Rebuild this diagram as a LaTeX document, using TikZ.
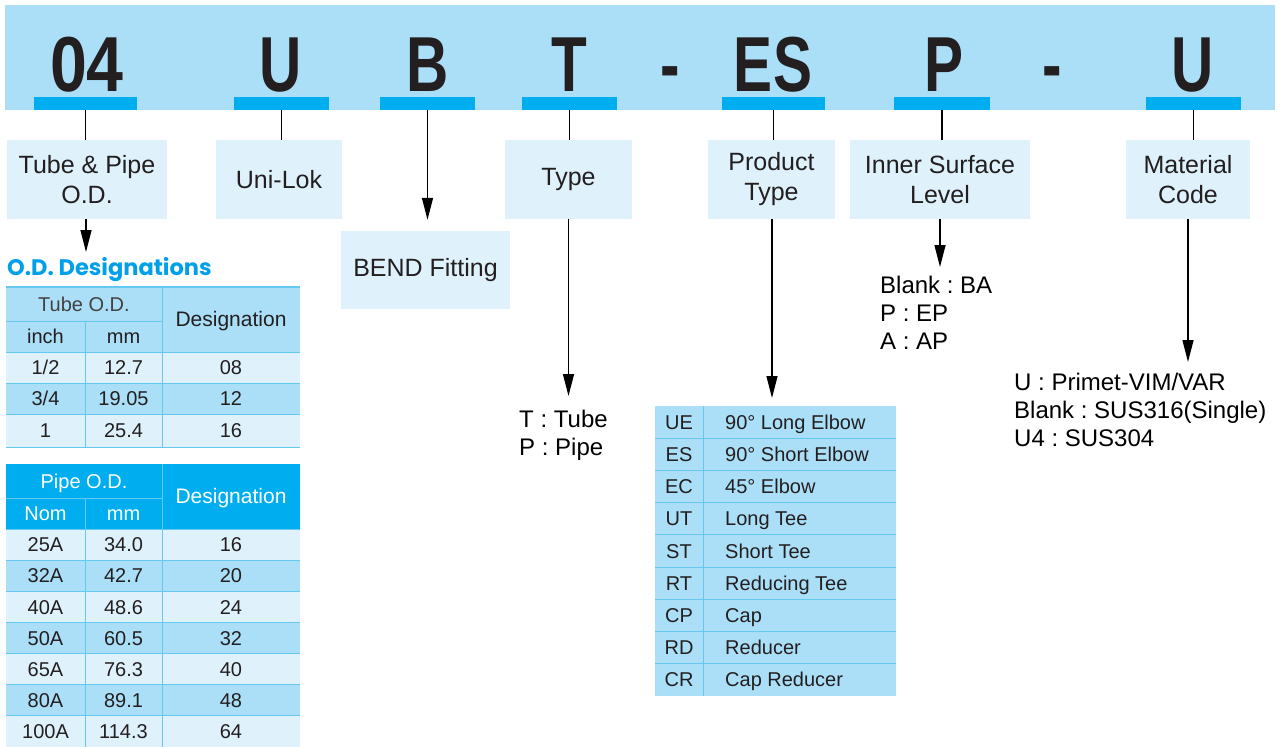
\documentclass[tikz,border=0pt]{standalone}
\usepackage{fontspec}
\usepackage{graphicx}
\setmainfont{Liberation Sans}
\newfontfamily\titlefont{Poppins}
\usetikzlibrary{arrows.meta}
\definecolor{midblue}{RGB}{170,223,247}
\definecolor{lightblue}{RGB}{223,242,251}
\definecolor{cyanbar}{RGB}{0,174,239}
\definecolor{tline}{RGB}{100,200,240}
\definecolor{ink}{RGB}{35,31,32}
\definecolor{titleblue}{RGB}{0,160,233}
\newcommand{\narrowtxt}[1]{\scalebox{0.75}[1]{#1}}
\frenchspacing
\begin{document}
\begin{tikzpicture}[x=1pt,y=-1pt,
  bigletter/.style={font=\fontsize{78}{78}\selectfont\bfseries, text=ink, inner sep=0pt, anchor=base},
  codebar/.style={fill=cyanbar, inner sep=0pt, minimum height=13pt},
  labelbox/.style={fill=lightblue, inner sep=0pt, align=center, font=\fontsize{25}{30}\selectfont, text=ink, minimum height=79pt},
  conn/.style={line width=1.4pt, draw=black},
  arr/.style={conn, -{Triangle[length=22pt,width=11pt]}},
  note/.style={inner sep=0pt, align=left, anchor=north west, font=\fontsize{24}{28}\selectfont, text=black},
  cell/.style={inner sep=0pt, font=\fontsize{20}{20}\selectfont, text=ink, text height=14.5pt, text depth=0pt},
  wcell/.style={cell, text=white},
  gridline/.style={draw=tline, line width=1pt}
]
\useasboundingbox (0,0) rectangle (1280,747);

% header band
\fill[midblue] (5,5) rectangle (1275,110);

% big code letters
\node[bigletter] (L1) at (87,91) {\scalebox{0.85}[1]{04}};
\node[bigletter] (L2) at (281,91) {\narrowtxt{U}};
\node[bigletter] (L3) at (428,91) {\narrowtxt{B}};
\node[bigletter] (L4) at (569,91) {\narrowtxt{T}};
\node[bigletter] (D1) at (670,91) {\narrowtxt{-}};
\node[bigletter] (L5) at (773,91) {\narrowtxt{ES}};
\node[bigletter] (L6) at (944,91) {\narrowtxt{P}};
\node[bigletter] (D2) at (1052,91) {\narrowtxt{-}};
\node[bigletter] (L7) at (1193,91) {\narrowtxt{U}};

% cyan bars
\node[codebar, minimum width=103pt] (bar1) at (85.5,103.5) {};
\node[codebar, minimum width=95pt] (bar2) at (281.5,103.5) {};
\node[codebar, minimum width=95pt] (bar3) at (427.5,103.5) {};
\node[codebar, minimum width=95pt] (bar4) at (569.5,103.5) {};
\node[codebar, minimum width=103pt] (bar5) at (773.5,103.5) {};
\node[codebar, minimum width=96pt] (bar6) at (942,103.5) {};
\node[codebar, minimum width=95pt] (bar7) at (1193.5,103.5) {};

% label boxes
\node[labelbox, minimum width=160pt] (tube) at (87,179.5) {Tube \& Pipe\\O.D.};
\node[labelbox, minimum width=126pt] (uni) at (279,179.5) {Uni-Lok};
\node[labelbox, minimum width=169pt, minimum height=78pt] (bend) at (425.5,270) {BEND Fitting};
\node[labelbox, minimum width=127pt] (type) at (568.5,179.5) {Type};
\node[labelbox, minimum width=127pt] (prod) at (771.5,179.5) {Product\\Type};
\node[labelbox, minimum width=180pt] (inner) at (940,179.5) {Inner Surface\\Level};
\node[labelbox, minimum width=124pt] (mat) at (1188,179.5) {Material\\Code};

% connectors from bars
\draw[conn] (bar1.south) -- (bar1.south |- tube.north);
\draw[conn] (bar2.south) -- (bar2.south |- uni.north);
\draw[arr, shorten >=11pt] (bar3.south) -- (bar3.south |- bend.north);
\draw[conn] (bar4.south) -- (bar4.south |- type.north);
\draw[conn] (bar5.south) -- (bar5.south |- prod.north);
\draw[conn] (bar6.south) -- (bar6.south |- inner.north);
\draw[conn] (bar7.south) -- (bar7.south |- mat.north);

% notes
\node[note] (tnote) at (519,410) {T : Tube\\P : Pipe};
\node[note] (innote) at (880,276) {Blank : BA\\P : EP\\A : AP};
\node[note] (matnote) at (1014,373) {U : Primet-VIM/VAR\\Blank : SUS316(Single)\\U4 : SUS304};

% title
\node[inner sep=0pt, anchor=west, text=titleblue, font=\titlefont\bfseries\fontsize{22.5}{22.5}\selectfont] (title) at (7,270) {O.D. Designations};
\coordinate (ttop) at (86,252);
\coordinate (ptop) at (772,406);

% arrows from boxes
\draw[arr] (tube.south -| ttop) -- (ttop);
\draw[arr, shorten >=14pt] (type.south) -- (type.south |- tnote.north);
\draw[arr, shorten >=8pt] (prod.south -| ptop) -- (ptop);
\draw[arr, shorten >=9pt] (inner.south) -- (inner.south |- innote.north);
\draw[arr, shorten >=11pt] (mat.south) -- (mat.south |- matnote.north);

% ---- Tube O.D. table ----
\fill[midblue] (6,287) rectangle (300,352);
\fill[lightblue] (6,352) rectangle (300,383);
\fill[midblue] (6,383) rectangle (300,414);
\fill[lightblue] (6,414) rectangle (300,447);
\draw[gridline, line width=2pt] (6,287) -- (300,287);
\draw[gridline] (6,321) -- (162,321);
\foreach \yy in {352,383,414,447} \draw[gridline] (6,\yy) -- (300,\yy);
\draw[gridline] (85,321) -- (85,447);
\draw[gridline] (162,287) -- (162,447);
\node[cell, text=ink!85] (th1) at (84,304) {Tube O.D.};
\node[cell] (th2) at (45.5,336.5) {inch};
\node[cell] (th3) at (123.5,336.5) {mm};
\node[cell, font=\fontsize{21}{21}\selectfont] (th4) at (231,319.5) {Designation};
\node[cell] (ta1) at (45.5,367.5) {1/2};
\node[cell] (tb1) at (123.5,367.5) {12.7};
\node[cell] (tc1) at (231,367.5) {08};
\node[cell] (ta2) at (45.5,398.5) {3/4};
\node[cell] (tb2) at (123.5,398.5) {19.05};
\node[cell] (tc2) at (231,398.5) {12};
\node[cell] (ta3) at (45.5,430.5) {1};
\node[cell] (tb3) at (123.5,430.5) {25.4};
\node[cell] (tc3) at (231,430.5) {16};

% ---- Pipe O.D. table ----
\fill[cyanbar] (6,464) rectangle (300,529);
\draw[gridline] (6,498) -- (162,498);
\draw[gridline] (85,498) -- (85,529);
\draw[gridline] (162,464) -- (162,529);
\node[wcell] (ph1) at (84,481) {Pipe O.D.};
\node[wcell] (ph2) at (45.5,513.5) {Nom};
\node[wcell] (ph3) at (123.5,513.5) {mm};
\node[wcell, font=\fontsize{21}{21}\selectfont] (ph4) at (231,496.5) {Designation};
\foreach \n/\m/\d [count=\k from 0] in {25A/34.0/16, 32A/42.7/20, 40A/48.6/24, 50A/60.5/32, 65A/76.3/40, 80A/89.1/48, 100A/114.3/64} {
  \pgfmathsetmacro{\ya}{529+31.14*\k}
  \pgfmathsetmacro{\yb}{529+31.14*(\k+1)}
  \pgfmathsetmacro{\yc}{529+31.14*(\k+0.5)}
  \pgfmathtruncatemacro{\odd}{mod(\k,2)}
  \ifnum\odd=1 \fill[midblue] (6,\ya) rectangle (300,\yb); \else \fill[lightblue] (6,\ya) rectangle (300,\yb); \fi
  \draw[gridline] (6,\ya) -- (300,\ya);
  \draw[gridline] (85,\ya) -- (85,\yb);
  \draw[gridline] (162,\ya) -- (162,\yb);
  \node[cell] (pa\k) at (45.5,\yc) {\n};
  \node[cell] (pb\k) at (123.5,\yc) {\m};
  \node[cell] (pc\k) at (231,\yc) {\d};
}

% ---- Product type table ----
\fill[midblue] (655,406) rectangle (896,696);
\foreach \c/\d [count=\k from 0] in {UE/90° Long Elbow, ES/90° Short Elbow, EC/45° Elbow, UT/Long Tee, ST/Short Tee, RT/Reducing Tee, CP/Cap, RD/Reducer, CR/Cap Reducer} {
  \pgfmathsetmacro{\yc}{406+32.2*(\k+0.5)}
  \pgfmathsetmacro{\yb}{406+32.2*(\k+1)}
  \node[cell] (pc\k code) at (679,\yc) {\c};
  \node[cell, anchor=west] (pd\k) at (725,\yc) {\d};
  \ifnum\k<8 \draw[gridline] (655,\yb) -- (896,\yb); \fi
}
\draw[gridline] (703,406) -- (703,696);

\end{tikzpicture}
\end{document}
